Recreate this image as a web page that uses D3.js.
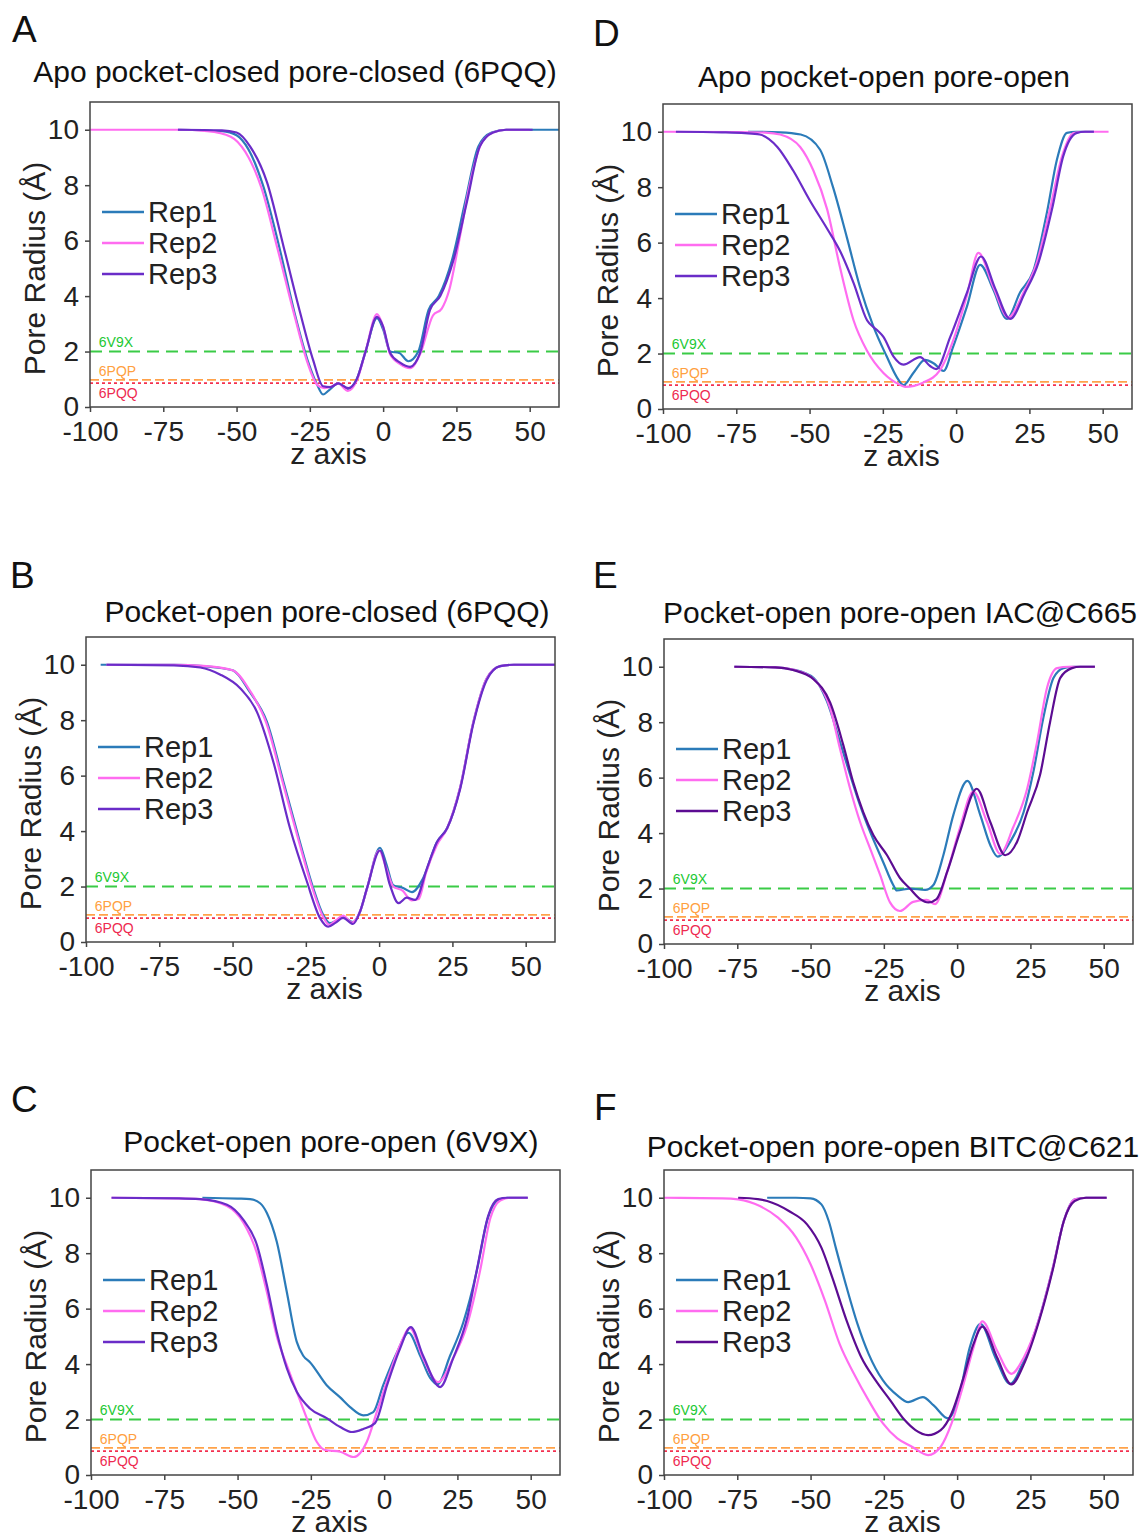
<!DOCTYPE html>
<html>
<head>
  <meta charset="utf-8">
  <script src="https://d3js.org/d3.v7.min.js"></script>
  <style>
    body { margin: 0; background: #fff; }
    svg { display: block; font-family: "Liberation Sans", Arial, Helvetica, sans-serif; }
    .tick text { fill: #222; }
  </style>
</head>
<body>
  <svg id="chart" width="1139" height="1536"></svg>
  <script>
    // ---- data ----
    const X_TICKS = [-100, -75, -50, -25, 0, 25, 50];
    const Y_TICKS = [0, 2, 4, 6, 8, 10];
    const REPS = ["Rep1", "Rep2", "Rep3"];
    const REF_NAMES  = ["6V9X", "6PQP", "6PQQ"];
    const REF_VALUES = [2.0, 0.98, 0.86];
    const REF_LABEL_Y = [2.35, 1.3, 0.5];
    const LETTERS = ["A", "B", "C", "D", "E", "F"];
    const TITLES = [
      "Apo pocket-closed pore-closed (6PQQ)",
      "Pocket-open pore-closed (6PQQ)",
      "Pocket-open pore-open (6V9X)",
      "Apo pocket-open pore-open",
      "Pocket-open pore-open IAC@C665",
      "Pocket-open pore-open BITC@C621"
    ];

    // [z, pore radius]
    const A_REP1 = [[-70,10],[-55,9.95],[-50,9.8],[-46,9.3],[-41,8.0],[-35.5,5.8],[-30,3.3],[-25.5,1.6],[-22.5,0.8],[-20.5,0.45],[-18.5,0.6],[-15.3,0.85],[-12,0.65],[-9,1.0],[-6,2.0],[-2.1,3.2],[0,2.8],[2.4,2.0],[5.5,1.95],[8.6,1.65],[12,2.0],[15.5,3.5],[19,4.0],[23.5,5.3],[28,7.4],[32.5,9.4],[37,9.9],[42,10],[60,10]];
    const A_REP2 = [[-100,10],[-70,10],[-60,9.95],[-52,9.75],[-47,9.2],[-41.5,7.9],[-36,5.7],[-30,3.2],[-25.8,1.6],[-22.5,0.8],[-20,0.68],[-18,0.72],[-15.3,0.85],[-12,0.58],[-9,0.95],[-6,2.0],[-2.1,3.35],[0,2.9],[2.4,1.9],[5.8,1.55],[9.2,1.4],[12.6,1.9],[17,3.3],[20,3.55],[22.5,4.2],[26.3,6.2],[29.5,8.0],[33.5,9.5],[37.5,9.9],[42,10],[50,10]];
    const A_REP3 = [[-70,10],[-55,9.98],[-50,9.9],[-45.4,9.4],[-39.6,8.1],[-34,5.8],[-28.3,3.4],[-23.9,1.7],[-20.5,0.75],[-18,0.72],[-15.3,0.85],[-11.9,0.68],[-9,1.0],[-6,2.0],[-2.1,3.25],[0,2.9],[2.4,1.95],[5.8,1.6],[9.2,1.45],[12.6,1.95],[16,3.5],[19.5,4.0],[24,5.3],[28.6,7.4],[33,9.4],[37.5,9.9],[42,10],[51,10]];

    const B_REP1 = [[-95,10],[-70,10],[-60,9.95],[-50,9.8],[-44,9.0],[-38.3,7.95],[-32.7,5.8],[-27,3.6],[-22.5,1.95],[-19.1,0.98],[-16.8,0.68],[-14.5,0.78],[-12.3,0.9],[-8.9,0.72],[-6.5,1.1],[-4.1,1.95],[0.3,3.4],[2.5,2.8],[4.8,2.05],[8.2,1.95],[11.2,1.8],[15,2.3],[19.7,3.6],[23.2,4.1],[27.6,5.55],[32.2,7.95],[36.7,9.5],[41.3,9.95],[46,10],[60,10]];
    const B_REP2 = [[-93,10],[-70,10],[-60,9.96],[-50,9.8],[-44,9.05],[-38.5,7.9],[-33,5.8],[-27.3,3.6],[-22.8,1.95],[-19.3,0.95],[-17,0.62],[-14.5,0.8],[-12.3,0.95],[-9.2,0.7],[-6.5,1.1],[-4.2,1.9],[0,3.3],[2.3,2.7],[4.8,2.0],[8,1.85],[11,1.5],[13.5,1.55],[16,2.5],[19.7,3.5],[23.2,4.1],[27.6,5.55],[32.2,7.95],[36.7,9.5],[41.3,9.95],[46,10],[60,10]];
    const B_REP3 = [[-93,10],[-70,9.98],[-61,9.9],[-54.3,9.65],[-47.4,9.15],[-41.7,8.3],[-36.1,6.5],[-30.4,4.1],[-24.7,2.2],[-20.1,0.85],[-17.4,0.55],[-14.8,0.7],[-12.3,0.87],[-8.9,0.65],[-6.5,1.1],[-4.1,1.95],[0.3,3.3],[3.7,2.05],[6.6,1.4],[9.4,1.6],[12.3,1.52],[16.3,2.65],[19.7,3.6],[23.2,4.1],[27.6,5.5],[32.2,7.9],[36.7,9.45],[41.3,9.95],[46,10],[60,10]];

    const C_REP1 = [[-62,10],[-50,9.97],[-45.7,9.95],[-42.3,9.8],[-40,9.45],[-36.6,8.4],[-33.2,6.6],[-29.8,4.8],[-27.6,4.3],[-25.3,4.07],[-19.6,3.24],[-15,2.8],[-11.6,2.45],[-7.1,2.15],[-3.7,2.27],[-0.3,3.24],[4.3,4.4],[8.3,5.13],[12.3,4.3],[15.7,3.5],[18.2,3.27],[22.5,4.3],[27,5.5],[31.7,7.4],[35.2,9.2],[38.7,9.9],[42,10],[49,10]];
    const C_REP2 = [[-93,10],[-70,9.98],[-62.8,9.95],[-53.6,9.7],[-48,9.1],[-43.4,8.0],[-40,6.6],[-36.6,5.0],[-33.2,3.96],[-29.8,3.0],[-26.4,2.05],[-23,1.2],[-20.1,0.9],[-15,0.84],[-10.4,0.65],[-5.9,1.2],[-2.5,2.27],[2,3.7],[5.4,4.67],[8.8,5.3],[13.3,4.2],[18.4,3.35],[23.5,4.2],[28.3,5.4],[32.8,7.4],[36.2,9.25],[39.6,9.9],[43,10],[49,10]];
    const C_REP3 = [[-93,10],[-70,9.98],[-62.8,9.95],[-53.6,9.75],[-48,9.2],[-43.4,8.3],[-40,6.85],[-36.6,5.15],[-33.2,3.85],[-29.8,3.0],[-25.3,2.4],[-19.6,2.05],[-15,1.73],[-11,1.55],[-7.1,1.66],[-3.1,1.87],[1,3.24],[5.4,4.55],[9.1,5.33],[13.3,4.3],[19.1,3.17],[23.5,4.2],[28.3,5.65],[32.1,7.65],[35.5,9.35],[38.9,9.95],[42,10],[49,10]];

    const D_REP1 = [[-71,10],[-60,9.98],[-53,9.9],[-46.4,9.35],[-42,8.0],[-37.3,6.2],[-32.8,4.4],[-28.3,3.0],[-23.7,1.9],[-20.3,1.16],[-18,0.86],[-14.6,1.3],[-10.6,1.77],[-7.7,1.65],[-4.3,1.37],[-1,2.25],[3.7,3.7],[8.2,5.2],[12.7,4.3],[17.3,3.25],[21.8,4.2],[26.4,5.0],[31,7.1],[34.4,9.0],[37.8,9.96],[41,10],[47,10]];
    const D_REP2 = [[-100,10],[-75,9.99],[-65,9.97],[-60,9.9],[-53.2,9.45],[-48.7,8.6],[-44,7.2],[-39.6,5.1],[-35,3.2],[-30.4,2.1],[-24.8,1.3],[-19.1,0.87],[-17.4,0.8],[-11.3,0.95],[-5.5,1.4],[-0.9,2.5],[3.7,4.1],[7.6,5.63],[12.7,4.4],[17.8,3.3],[23,4.2],[27.6,5.3],[32,7.2],[36.1,9.1],[40,9.95],[44,10],[52,10]];
    const D_REP3 = [[-95.6,10],[-80,9.98],[-72,9.95],[-67,9.9],[-61,9.45],[-55.6,8.6],[-49.8,7.5],[-44,6.5],[-39.6,5.7],[-35,4.55],[-30.4,3.2],[-27,2.85],[-24.8,2.6],[-21.4,1.9],[-18,1.6],[-12.3,1.87],[-8.9,1.55],[-6.8,1.44],[-2,2.6],[3.7,4.2],[8.5,5.5],[13.3,4.35],[18.4,3.25],[23.5,4.2],[28,5.25],[32.7,7.2],[36.5,9.1],[41,9.95],[44,10],[47,10]];

    const E_REP1 = [[-76,10],[-62,9.98],[-56,9.9],[-49,9.6],[-44.4,8.75],[-40,7.3],[-36.5,6.1],[-33.1,5.0],[-29.7,4.05],[-25.2,2.95],[-21.8,2.13],[-20.6,1.93],[-16.1,2.0],[-10.9,1.95],[-8.1,2.13],[-4.7,3.2],[-1.3,4.65],[3.5,5.88],[7.9,4.65],[11.3,3.57],[13.8,3.15],[18.2,3.7],[22.7,4.76],[26,6.2],[29.4,8.15],[32.9,9.6],[36.3,9.95],[40,10],[47,10]];
    const E_REP2 = [[-76,10],[-62,9.98],[-56,9.9],[-47.9,9.45],[-43.3,8.5],[-40,7.06],[-36.5,5.6],[-33.1,4.4],[-29.7,3.45],[-26.3,2.5],[-22.9,1.5],[-19.5,1.19],[-15,1.52],[-10.4,1.59],[-7.5,1.44],[-3.4,2.6],[1,4.2],[5.5,5.5],[10.2,4.4],[14.7,3.25],[19.1,4.2],[23.9,5.6],[27.3,7.3],[30.7,9.25],[34.1,9.95],[38,10],[47,10]];
    const E_REP3 = [[-76,10],[-62,9.98],[-56,9.88],[-49,9.55],[-43.3,8.7],[-38.9,7.2],[-35.5,5.85],[-32,4.75],[-28.6,3.93],[-23.9,3.2],[-19.5,2.38],[-16.1,2.0],[-12.6,1.62],[-9.8,1.5],[-7,1.62],[-3.4,2.6],[1,4.05],[6.7,5.6],[11.3,4.4],[16.4,3.2],[20.5,3.7],[23.9,4.76],[28.3,6.1],[31.7,8.0],[35.2,9.6],[39.2,9.95],[42,10],[47,10]];

    const F_REP1 = [[-64.8,10],[-55,10],[-50,9.98],[-46.3,9.76],[-43.8,9.16],[-41.4,8.2],[-37.7,6.77],[-34,5.45],[-30.2,4.37],[-25.3,3.41],[-20.4,2.87],[-16.7,2.63],[-11.7,2.81],[-8,2.51],[-3.1,2.04],[0.6,2.81],[4.3,4.6],[8,5.45],[13,4.25],[18.1,3.29],[22.8,4.13],[27.8,5.57],[32.7,7.49],[36.4,9.16],[40.1,9.94],[44,10],[51,10]];
    const F_REP2 = [[-100,10],[-80,9.98],[-74.7,9.94],[-67.3,9.7],[-61.1,9.28],[-54.9,8.56],[-50,7.6],[-45.1,6.29],[-40.1,4.73],[-35.2,3.65],[-30.2,2.69],[-25.3,1.86],[-20.4,1.32],[-15.4,1.02],[-9.9,0.72],[-5.6,1.02],[-1.9,1.86],[1.9,3.17],[5.6,4.6],[8.6,5.54],[13.6,4.49],[18.5,3.65],[22.8,4.25],[27.8,5.57],[32.7,7.49],[36.4,9.16],[40.1,9.94],[44,10],[51,10]];
    const F_REP3 = [[-74.7,10],[-68,9.95],[-64.8,9.88],[-57.4,9.52],[-51.2,9.04],[-46.3,8.2],[-42.6,7.13],[-37.7,5.57],[-32.7,4.25],[-27.8,3.41],[-22.8,2.69],[-17.9,1.98],[-14.2,1.62],[-9.9,1.44],[-5.6,1.62],[-1.9,2.22],[1.9,3.41],[5.6,4.73],[8.6,5.35],[13.6,4.25],[18.5,3.27],[22.8,4.0],[27.8,5.5],[32.7,7.43],[36.4,9.16],[40.1,9.88],[44,10],[51,10]];

    const SERIES = [
      [A_REP1, A_REP2, A_REP3],
      [B_REP1, B_REP2, B_REP3],
      [C_REP1, C_REP2, C_REP3],
      [D_REP1, D_REP2, D_REP3],
      [E_REP1, E_REP2, E_REP3],
      [F_REP1, F_REP2, F_REP3]
    ];

    // ---- layout / style ----
    const PW = 469, PH = 305;
    const X_DOMAIN = [-100, 60], Y_DOMAIN = [0, 11];
    const PANELS = [
      { left: 90,  bottom: 407,  titleX: 295, titleY: 82,   letterX: 12,  letterY: 42 },
      { left: 86,  bottom: 942,  titleX: 327, titleY: 622,  letterX: 10,  letterY: 588 },
      { left: 91,  bottom: 1475, titleX: 331, titleY: 1152, letterX: 11,  letterY: 1112 },
      { left: 663, bottom: 409,  titleX: 884, titleY: 87,   letterX: 593, letterY: 46 },
      { left: 664, bottom: 944,  titleX: 900, titleY: 623,  letterX: 593, letterY: 588 },
      { left: 664, bottom: 1475, titleX: 893, titleY: 1157, letterX: 594, letterY: 1120 }
    ];
    const COLORS_AD = ["#2b7bb9", "#ff6cf0", "#6a2cc8"];
    const COLORS_EF = ["#2b7bb9", "#ff6cf0", "#5c0c92"];
    const REF_COLORS = ["#3acb47", "#ffa24a", "#f3304f"];
    const REF_DASH = ["12,7", "9,4", "3,3"];
    const REF_WIDTH = [2, 1.6, 1.6];
    const REF_LABEL_COLORS = ["#22c832", "#ffa040", "#ee2a50"];
    const AXIS_COLOR = "#444";

    const svg = d3.select("#chart");

    PANELS.forEach((p, i) => {
      const x = d3.scaleLinear().domain(X_DOMAIN).range([p.left, p.left + PW]);
      const y = d3.scaleLinear().domain(Y_DOMAIN).range([p.bottom, p.bottom - PH]);
      const colors = i >= 4 ? COLORS_EF : COLORS_AD;
      const g = svg.append("g");

      const clipId = "clip" + i;
      g.append("clipPath").attr("id", clipId)
        .append("rect")
        .attr("x", p.left).attr("y", p.bottom - PH)
        .attr("width", PW).attr("height", PH);

      // reference lines
      REF_VALUES.forEach((v, k) => {
        g.append("line")
          .attr("x1", x(X_DOMAIN[0])).attr("x2", x(X_DOMAIN[1]))
          .attr("y1", y(v)).attr("y2", y(v))
          .attr("stroke", REF_COLORS[k])
          .attr("stroke-width", REF_WIDTH[k])
          .attr("stroke-dasharray", REF_DASH[k]);
        g.append("text")
          .attr("x", x(-97)).attr("y", y(REF_LABEL_Y[k]))
          .attr("dy", "0.35em")
          .style("font-size", "14px")
          .attr("fill", REF_LABEL_COLORS[k])
          .text(REF_NAMES[k]);
      });

      // curves
      const line = d3.line()
        .x(d => x(d[0])).y(d => y(d[1]))
        .curve(d3.curveMonotoneX);
      SERIES[i].forEach((s, k) => {
        g.append("path")
          .attr("clip-path", `url(#${clipId})`)
          .attr("d", line(s))
          .attr("fill", "none")
          .attr("stroke", colors[k])
          .attr("stroke-width", 2.2)
          .attr("stroke-linejoin", "round");
      });

      // frame
      g.append("rect")
        .attr("x", p.left).attr("y", p.bottom - PH)
        .attr("width", PW).attr("height", PH)
        .attr("fill", "none")
        .attr("stroke", AXIS_COLOR)
        .attr("stroke-width", 1.5);

      // axes
      const xAxis = g.append("g")
        .attr("transform", `translate(0, ${p.bottom})`)
        .call(d3.axisBottom(x).tickValues(X_TICKS).tickSize(5).tickPadding(9).tickFormat(d => String(d)));
      const yAxis = g.append("g")
        .attr("transform", `translate(${p.left}, 0)`)
        .call(d3.axisLeft(y).tickValues(Y_TICKS).tickSize(5).tickPadding(6).tickFormat(d => String(d)));
      [xAxis, yAxis].forEach(a => {
        a.select(".domain").remove();
        a.selectAll("line").attr("stroke", AXIS_COLOR).attr("stroke-width", 1.5);
        a.selectAll("text").style("font-size", "28px").style("font-family", "Liberation Sans, Arial, sans-serif");
      });

      // axis labels
      g.append("text")
        .attr("x", p.left + PW / 2 + 4).attr("y", p.bottom + 57)
        .attr("text-anchor", "middle")
        .style("font-size", "30px").attr("fill", "#222")
        .text("z axis");
      const yl = p.left - 45, ym = p.bottom - PH / 2 + 14;
      g.append("text")
        .attr("transform", `translate(${yl}, ${ym}) rotate(-90)`)
        .attr("text-anchor", "middle")
        .style("font-size", "30px").attr("fill", "#222")
        .text("Pore Radius (Å)");

      // legend
      const top = p.bottom - PH;
      REPS.forEach((name, k) => {
        const ly = top + 110 + k * 31;
        g.append("line")
          .attr("x1", p.left + 12).attr("x2", p.left + 54)
          .attr("y1", ly).attr("y2", ly)
          .attr("stroke", colors[k]).attr("stroke-width", 2.5);
        g.append("text")
          .attr("x", p.left + 58).attr("y", ly)
          .attr("dy", "0.35em")
          .style("font-size", "29px").attr("fill", "#222")
          .text(name);
      });

      // title & panel letter
      g.append("text")
        .attr("x", p.titleX).attr("y", p.titleY)
        .attr("text-anchor", "middle")
        .style("font-size", "30px").attr("fill", "#111")
        .text(TITLES[i]);
      g.append("text")
        .attr("x", p.letterX).attr("y", p.letterY)
        .style("font-size", "37px").attr("fill", "#111")
        .text(LETTERS[i]);
    });
  </script>
</body>
</html>
